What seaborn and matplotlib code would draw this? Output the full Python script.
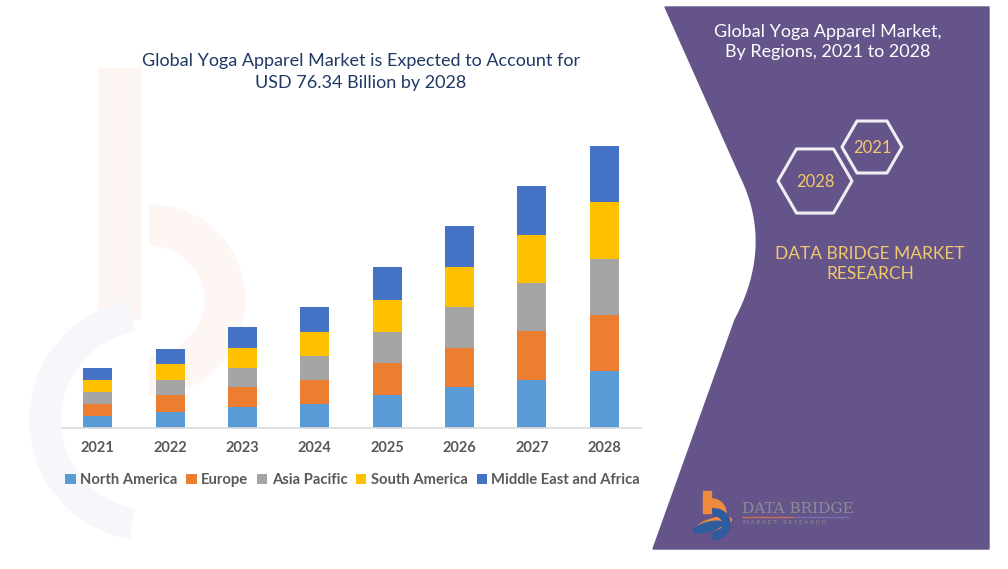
import numpy as np
import pandas as pd
import matplotlib.pyplot as plt
import seaborn as sns
from matplotlib.patches import Polygon, RegularPolygon, Ellipse, Rectangle, Wedge

# 設定
years = ['2021', '2022', '2023', '2024', '2025', '2026', '2027', '2028']
regions = ['North America', 'Europe', 'Asia Pacific', 'South America', 'Middle East and Africa']
north_america = [3.3, 4.2, 5.6, 6.6, 8.8, 11.0, 13.1, 15.3]
europe = [3.2, 4.6, 5.4, 6.5, 8.7, 10.7, 13.1, 15.3]
asia_pacific = [3.2, 4.2, 5.3, 6.5, 8.5, 11.1, 13.1, 15.2]
south_america = [3.3, 4.4, 5.4, 6.5, 8.7, 10.8, 13.0, 15.4]
middle_east_africa = [3.2, 4.1, 5.6, 6.7, 8.8, 11.0, 13.1, 15.1]
region_colors = ['#5B9BD5', '#ED7D31', '#A5A5A5', '#FFC000', '#4472C4']

title = 'Global Yoga Apparel Market is Expected to Account for\nUSD 76.34 Billion by 2028'
panel_title = 'Global Yoga Apparel Market,\nBy Regions, 2021 to 2028'

W, H = 1008, 569

sns.set_theme(style='white')
plt.rcParams['font.family'] = ['Lato', 'DejaVu Sans']

fig = plt.figure(figsize=(W / 100, H / 100), dpi=100)
fig.patch.set_facecolor('white')

# 背景 (ピクセル座標)
bg = fig.add_axes([0, 0, 1, 1])
bg.set_xlim(0, W)
bg.set_ylim(H, 0)
bg.axis('off')

# うっすらしたウォーターマーク
bg.add_patch(Rectangle((98, 68), 42, 250, color='#fdf5f1', zorder=0))
bg.add_patch(Wedge((150, 300), 95, -90, 90, width=40, color='#fdf6f3', zorder=0))
bg.add_patch(Wedge((150, 420), 120, 100, 260, width=30, color='#f6f7fa', zorder=0))

# 紫のパネル
t = np.linspace(0, 1, 40)
p0, p1, p2 = np.array([740, 175]), np.array([775, 245]), np.array([735, 320])
curve = ((1 - t) ** 2)[:, None] * p0 + (2 * (1 - t) * t)[:, None] * p1 + (t ** 2)[:, None] * p2
pts = [(665, 7), (989, 7), (989, 549), (653, 549)] + [tuple(p) for p in curve[::-1]]
bg.add_patch(Polygon(pts, closed=True, color='#65548A', zorder=1))

bg.text(828, 42, panel_title, color='white', fontsize=13, ha='center', va='center',
        linespacing=1.35, zorder=3)

# 六角形
for cx, cy, r, label in [(815, 181, 37, '2028'), (872, 147, 30, '2021')]:
    bg.add_patch(RegularPolygon((cx, cy), numVertices=6, radius=r, orientation=np.pi / 6,
                                fill=False, edgecolor='white', linewidth=2.2, alpha=0.9,
                                joinstyle='round', zorder=3))
    bg.text(cx, cy + 1, label, color='#F2C96B', fontsize=12, ha='center', va='center', zorder=4)

bg.text(870, 264, 'DATA BRIDGE MARKET\nRESEARCH', color='#F2C96B', fontsize=12.5,
        ha='center', va='center', linespacing=1.3, zorder=3)

# ロゴ
bg.add_patch(Rectangle((703, 491), 8, 22, color='#F08A3C', zorder=3))
bg.add_patch(Wedge((712, 513), 14, -90, 90, width=8, color='#F08A3C', zorder=3))
bg.add_patch(Ellipse((714, 524), 36, 11, angle=-15, color='#F08A3C', zorder=3))
bg.add_patch(Wedge((715, 524), 15, -100, 100, width=7, color='#2E5C9E', zorder=4))
bg.add_patch(Ellipse((708, 527), 30, 9, angle=-15, color='#2E5C9E', zorder=4))
bg.text(742, 509, 'DATA BRIDGE', color='#8c8c96', fontsize=11, family='DejaVu Serif',
        fontweight='light', ha='left', va='center', zorder=4)
bg.plot([742, 794], [517, 517], color='#C8705A', lw=1, zorder=4)
bg.plot([794, 848], [517, 517], color='#7A6FA8', lw=1, zorder=4)
bg.text(743, 523, 'M A R K E T    R E S E A R C H', color='#8c8c96', fontsize=4.5,
        ha='left', va='center', zorder=4)

# グラフ
bg.text(361, 72, title, color='#1F3864', fontsize=13, ha='center', va='center',
        linespacing=1.4, zorder=3)

ax = fig.add_axes([61.5 / W, 141 / H, 579 / W, 298 / H])
ax.patch.set_alpha(0)

series = [north_america, europe, asia_pacific, south_america, middle_east_africa]
df = pd.DataFrame({'year': years})
bottom = np.zeros(len(years))
for name, vals, col in zip(regions, series, region_colors):
    df[name] = vals
    sns.barplot(data=df, x='year', y=name, bottom=bottom, color=col, width=0.4,
                label=name, errorbar=None, saturation=1, ax=ax, linewidth=0)
    bottom = bottom + np.array(vals)

ax.set_ylim(0, 80.6)
ax.set_xlim(-0.5, len(years) - 0.5)
ax.set_xlabel('')
ax.set_ylabel('')
ax.set_yticks([])
for s in ['top', 'left', 'right']:
    ax.spines[s].set_visible(False)
ax.spines['bottom'].set_color('#D9D9D9')
ax.spines['bottom'].set_linewidth(1.2)
ax.tick_params(axis='x', length=0, pad=9, labelsize=10.5, labelcolor='#595959')
for lbl in ax.get_xticklabels():
    lbl.set_fontweight('bold')

leg = ax.legend(loc='center', bbox_to_anchor=(0.503, -0.175), ncol=5, frameon=False,
                handlelength=0.7, handleheight=0.7, handletextpad=0.3, columnspacing=0.6,
                prop={'size': 10.6, 'weight': 'bold'})
for txt in leg.get_texts():
    txt.set_color('#595959')

fig.savefig('out.png', dpi=100, facecolor='white')
